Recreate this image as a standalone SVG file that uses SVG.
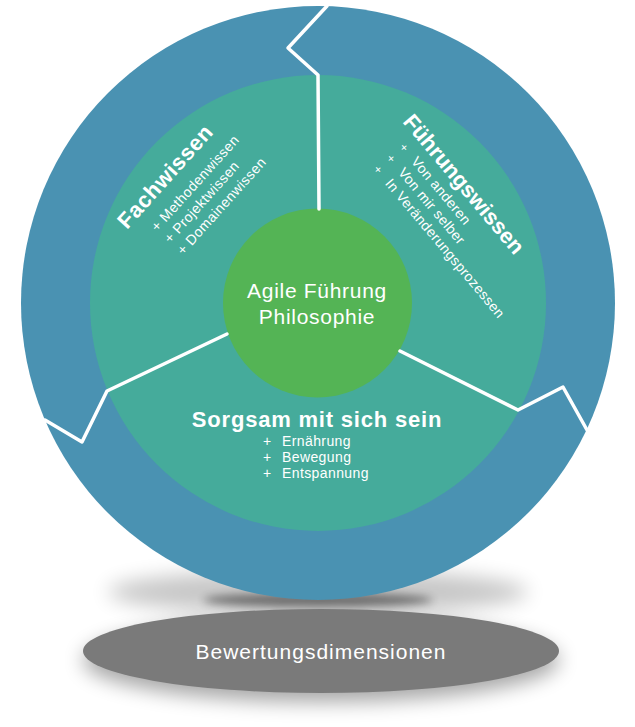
<svg xmlns="http://www.w3.org/2000/svg" width="635" height="727" viewBox="0 0 635 727">
  <defs>
    <filter id="blur4" x="-50%" y="-50%" width="200%" height="200%"><feGaussianBlur stdDeviation="4"/></filter>
    <filter id="blur10" x="-50%" y="-100%" width="200%" height="300%"><feGaussianBlur stdDeviation="10"/></filter>
    <style>
      .t { font-family: "Liberation Sans", Arial, sans-serif; fill: #ffffff; }
      .title { font-weight: bold; font-size: 22px; }
      .item { font-size: 14px; letter-spacing: 0.4px; }
      .center { font-size: 21px; letter-spacing: 0.7px; text-anchor: middle; }
      .divider { fill: none; stroke: #ffffff; stroke-width: 3.5; stroke-linejoin: round; stroke-linecap: round; }
    </style>
  </defs>

  <rect width="635" height="727" fill="#ffffff"/>

  <!-- shadows -->
  <g id="shadows">
    <ellipse cx="318" cy="592" rx="210" ry="22" fill="#000" opacity="0.22" filter="url(#blur10)"/>
    <ellipse cx="318" cy="600" rx="115" ry="7" fill="#000" opacity="0.45" filter="url(#blur4)"/>
    <ellipse cx="321" cy="660" rx="238" ry="42" fill="#000" opacity="0.35" filter="url(#blur10)"/>
  </g>

  <g id="node-outer">
    <circle cx="318" cy="303" r="297" fill="#4a92b2"/>
  </g>

  <g id="node-ring">
    <circle cx="318" cy="303" r="228" fill="#45ab9b"/>
  </g>

  <g id="node-center">
    <circle cx="317.5" cy="303" r="94.5" fill="#54b455"/>
    <text class="t center" x="317" y="298">Agile Führung</text>
    <text class="t center" x="317" y="324">Philosophie</text>
  </g>

  <g id="connectors">
    <path class="divider" d="M327,6 L288,48 L318,75 L319,209"/>
    <path class="divider" d="M227,334 L107,391 L82,442 L45,420"/>
    <path class="divider" d="M400,351 L518,410 L563,387 L587,430"/>
  </g>

  <g id="node-fachwissen" transform="translate(127,230) rotate(-48)">
    <text class="t title" x="0" y="0" style="letter-spacing:0.6px">Fachwissen</text>
    <text class="t item" x="18.5" y="24">+ Methodenwissen</text>
    <text class="t item" x="18.5" y="41.5">+ Projektwissen</text>
    <text class="t item" x="18.5" y="59">+ Domainenwissen</text>
  </g>

  <g id="node-fuehrungswissen" transform="translate(402,122) rotate(50)">
    <text class="t title" x="0" y="0">Führungswissen</text>
    <text class="t item" y="19"><tspan x="17.5" font-size="12">+</tspan><tspan x="36">Von anderen</tspan></text>
    <text class="t item" y="36"><tspan x="17.5" font-size="12">+</tspan><tspan x="36">Von mir selber</tspan></text>
    <text class="t item" y="53"><tspan x="17.5" font-size="12">+</tspan><tspan x="36">In Veränderungsprozessen</tspan></text>
  </g>

  <g id="node-sorgsam">
    <text class="t title" x="317" y="427" text-anchor="middle" style="letter-spacing:0.8px">Sorgsam mit sich sein</text>
    <text class="t item" y="446"><tspan x="263">+</tspan><tspan x="282">Ernährung</tspan></text>
    <text class="t item" y="462"><tspan x="263">+</tspan><tspan x="282">Bewegung</tspan></text>
    <text class="t item" y="478"><tspan x="263">+</tspan><tspan x="282">Entspannung</tspan></text>
  </g>

  <g id="node-base">
    <ellipse cx="321" cy="651" rx="238" ry="42" fill="#7a7a7a"/>
    <text class="t" x="321" y="659" text-anchor="middle" font-size="21" style="letter-spacing:1px">Bewertungsdimensionen</text>
  </g>
</svg>
